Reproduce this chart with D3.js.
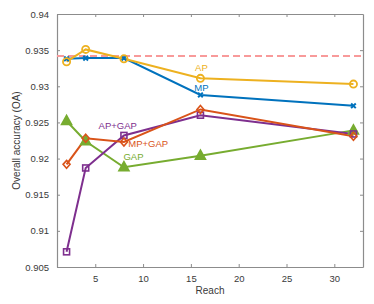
<!DOCTYPE html>
<html><head><meta charset="utf-8">
<script src="https://cdn.jsdelivr.net/npm/d3@7"></script>
<style>body{margin:0;background:#fff}svg{display:block}text{font-family:"Liberation Sans",Arial,sans-serif}</style>
</head><body><svg id="c" width="374" height="304"></svg>
<script>
const reach = [2, 4, 8, 16, 32];
const AP = [0.9334, 0.9351, 0.9338, 0.9311, 0.9303];
const MP = [0.9338, 0.9339, 0.9339, 0.9288, 0.9273];
const MPGAP = [0.9192, 0.9228, 0.9223, 0.9268, 0.9231];
const APGAP = [0.9071, 0.9187, 0.9232, 0.9260, 0.9234];
const GAP = [0.9252, 0.9224, 0.9188, 0.9204, 0.9239];
const baseline = 0.9342;
const xTicks = [5, 10, 15, 20, 25, 30];
const yTicks = [0.905, 0.91, 0.915, 0.92, 0.925, 0.93, 0.935, 0.94];
const seriesNames = ["AP", "MP", "MP+GAP", "AP+GAP", "GAP"];

const svg = d3.select("#c");
const L = 57, R = 363, T = 14, B = 267;
const x = d3.scaleLinear().domain([1, 33]).range([L, R]);
const y = d3.scaleLinear().domain([0.905, 0.94]).range([B, T]);
const axisColor = "#8c8c8c", txt = "#3a3a3a";

const series = [
  {name: "AP", vals: AP, color: "#EDB120", marker: "circle"},
  {name: "MP", vals: MP, color: "#0072BD", marker: "x"},
  {name: "MP+GAP", vals: MPGAP, color: "#D95319", marker: "diamond"},
  {name: "AP+GAP", vals: APGAP, color: "#7E2F8E", marker: "square"},
  {name: "GAP", vals: GAP, color: "#77AC30", marker: "triangle"}
];

const gB = svg.append("g").attr("transform", `translate(0,${B})`)
  .call(d3.axisBottom(x).tickValues(xTicks).tickSizeInner(-3).tickSizeOuter(0).tickPadding(8).tickFormat(d3.format("d")));
const gT = svg.append("g").attr("transform", `translate(0,${T})`)
  .call(d3.axisTop(x).tickValues(xTicks).tickSizeInner(-3).tickSizeOuter(0).tickFormat(""));
const gL = svg.append("g").attr("transform", `translate(${L},0)`)
  .call(d3.axisLeft(y).tickValues(yTicks).tickSizeInner(-3).tickSizeOuter(0).tickPadding(8).tickFormat(d => d3.format("")(+d.toFixed(3))));
const gR = svg.append("g").attr("transform", `translate(${R},0)`)
  .call(d3.axisRight(y).tickValues(yTicks).tickSizeInner(-3).tickSizeOuter(0).tickFormat(""));
[gB, gT, gL, gR].forEach(g => {
  g.selectAll("path.domain").attr("stroke", axisColor).attr("stroke-width", 1.2);
  g.selectAll(".tick line").attr("stroke", axisColor);
  g.selectAll("text").attr("fill", txt).style("font-size", "9.5px").style("font-family", '"Liberation Sans",Arial,sans-serif');
});

svg.append("line").attr("x1", x(1)).attr("x2", x(33)).attr("y1", y(baseline)).attr("y2", y(baseline))
  .attr("stroke", "#f89a9a").attr("stroke-width", 2).attr("stroke-dasharray", "7,4");

const line = d3.line().x((d, i) => x(reach[i])).y(d => y(d));
series.slice().reverse().forEach(s => {
  svg.append("path").datum(s.vals).attr("d", line).attr("fill", "none")
    .attr("stroke", s.color).attr("stroke-width", 2);
});
series.slice().reverse().forEach(s => {
  const g = svg.append("g");
  s.vals.forEach((v, i) => {
    const cx = x(reach[i]), cy = y(v);
    if (s.marker === "circle") {
      g.append("circle").attr("cx", cx).attr("cy", cy).attr("r", 3.6).attr("fill", "none").attr("stroke", s.color).attr("stroke-width", 1.8);
    } else if (s.marker === "x") {
      g.append("path").attr("d", d3.symbol(d3.symbolX, 16)(null)).attr("transform", `translate(${cx},${cy})`).attr("stroke", s.color).attr("stroke-width", 2).attr("fill", "none");
    } else if (s.marker === "diamond") {
      g.append("path").attr("d", `M0,-4L3.5,0L0,4L-3.5,0Z`).attr("transform", `translate(${cx},${cy})`).attr("stroke", s.color).attr("stroke-width", 1.6).attr("fill", "none");
    } else if (s.marker === "square") {
      g.append("rect").attr("x", cx - 3).attr("y", cy - 3).attr("width", 6).attr("height", 6).attr("stroke", s.color).attr("stroke-width", 1.6).attr("fill", "none");
    } else if (s.marker === "triangle") {
      g.append("path").attr("d", `M0,-5.5L5,3.5L-5,3.5Z`).attr("transform", `translate(${cx},${cy})`).attr("stroke", s.color).attr("stroke-width", 1.6).attr("fill", s.color);
    }
  });
});

const labelPos = {"AP": [16.1, 0.9325, "middle"], "MP": [16.1, 0.9297, "middle"], "AP+GAP": [7.35, 0.9244, "middle"], "MP+GAP": [8.45, 0.9220, "start"], "GAP": [9.0, 0.9201, "middle"]};
series.forEach(s => {
  const p = labelPos[s.name];
  svg.append("text").attr("x", x(p[0])).attr("y", y(p[1])).attr("text-anchor", p[2])
    .attr("dominant-baseline", "middle").attr("fill", s.color).style("font-size", "9.5px").text(s.name);
});

svg.append("text").attr("x", (L + R) / 2).attr("y", 294).attr("text-anchor", "middle").attr("fill", txt).style("font-size", "10px").text("Reach");
svg.append("text").attr("transform", `translate(20,${(T + B) / 2}) rotate(-90)`).attr("text-anchor", "middle").attr("fill", txt).style("font-size", "10px").text("Overall accuracy (OA)");
</script></body></html>
